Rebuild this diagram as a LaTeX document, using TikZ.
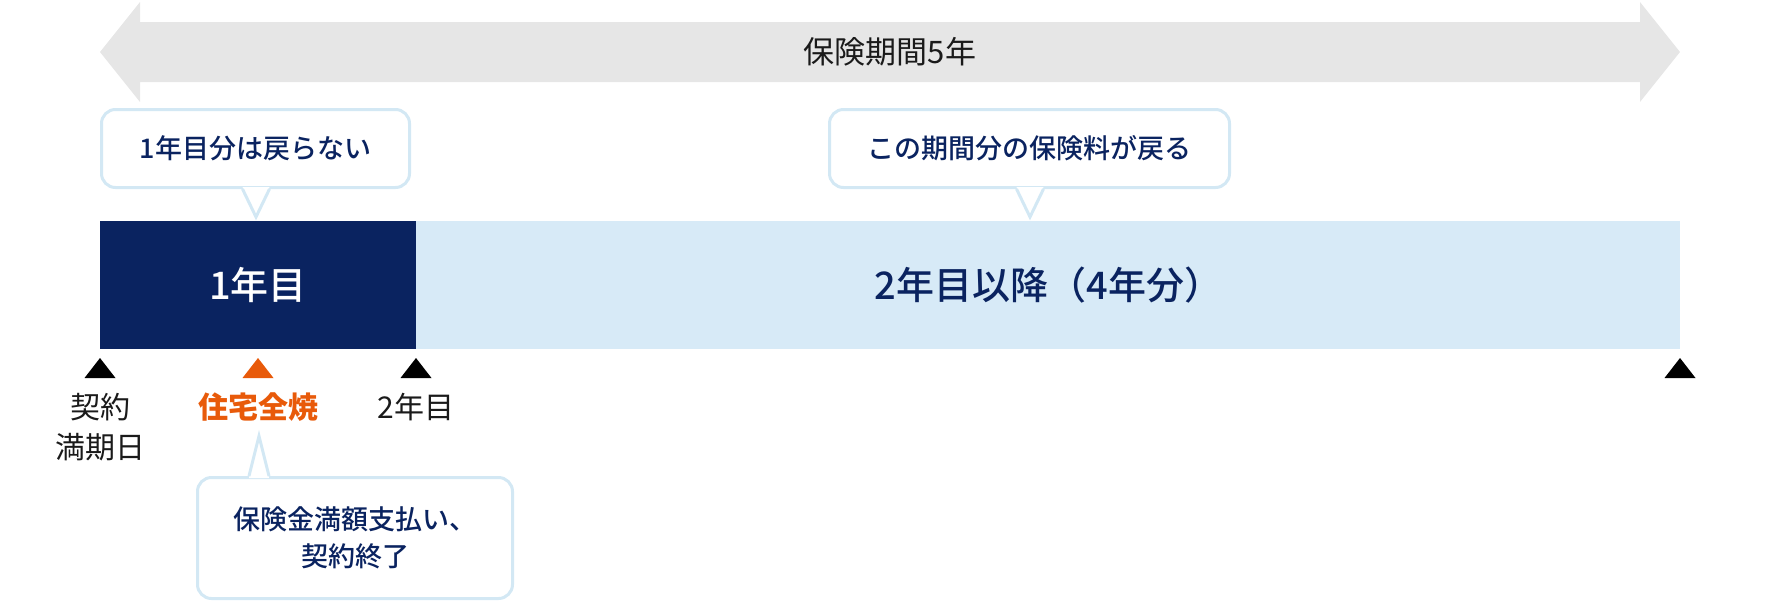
\documentclass[tikz,border=0pt]{standalone}
\usepackage{fontspec}
\setmainfont{Noto Sans CJK JP}
\newfontfamily\jpmedium{Noto Sans CJK JP Medium}
\usetikzlibrary{positioning}

\definecolor{navy}{HTML}{0A2360}
\definecolor{paleblue}{HTML}{D7EAF7}
\definecolor{rim}{HTML}{D3E8F4}
\definecolor{band}{HTML}{E6E6E6}
\definecolor{fire}{HTML}{E85A0A}
\definecolor{ink}{HTML}{1A1A1A}

\begin{document}
\begin{tikzpicture}[x=1pt, y=-1pt,
    period/.style={rectangle, minimum height=128pt, inner sep=0pt, font=\fontsize{38}{44}\selectfont\jpmedium},
    balloon/.style={rectangle, draw=rim, line width=3pt, fill=white, rounded corners=14pt, inner sep=0pt, text=navy, align=center, font=\fontsize{27}{37}\selectfont\jpmedium},
    pointer/.style={draw=rim, line width=3pt},
    label/.style={text=ink, align=center, font=\fontsize{30}{40}\selectfont}
  ]
  \useasboundingbox (0,0) rectangle (1780,606);

  % insurance period band
  \fill[band] (100,52) -- (140,2) -- (140,22) -- (1640,22) -- (1640,2) -- (1680,52)
    -- (1640,102) -- (1640,82) -- (140,82) -- (140,102) -- cycle;
  \node[text=ink, font=\fontsize{31}{36}\selectfont] (term) at (890,52) {保険期間5年};

  % years
  \node[period, fill=navy, text=white, minimum width=316pt] (year1) at (258,285) {1年目};
  \node[period, fill=paleblue, text=navy, minimum width=1264pt, right=0pt of year1] (later) {2年目以降（4年分）};

  % callouts
  \node[balloon, minimum width=308pt, minimum height=78pt] (note1) at (255.5,148.5) {1年目分は戻らない};
  \coordinate (tip1) at (256,217);
  \coordinate (base1) at (tip1 |- note1.south);
  \fill[white] ([xshift=-13.5pt,yshift=2pt]base1) -- (tip1) -- ([xshift=13.5pt,yshift=2pt]base1) -- cycle;
  \draw[pointer] ([xshift=-13.5pt]base1) -- (tip1) -- ([xshift=13.5pt]base1);

  \node[balloon, minimum width=400pt, minimum height=78pt] (note2) at (1029.5,148.5) {この期間分の保険料が戻る};
  \coordinate (tip2) at (1030,217);
  \coordinate (base2) at (tip2 |- note2.south);
  \fill[white] ([xshift=-13.5pt,yshift=2pt]base2) -- (tip2) -- ([xshift=13.5pt,yshift=2pt]base2) -- cycle;
  \draw[pointer] ([xshift=-13.5pt]base2) -- (tip2) -- ([xshift=13.5pt]base2);

  \node[balloon, minimum width=315pt, minimum height=121pt] (note3) at (355,538) {保険金満額支払い、\\契約終了};
  \coordinate (tip3) at (259,436);
  \coordinate (base3) at (tip3 |- note3.north);
  \fill[white] ([xshift=-10pt,yshift=-2pt]base3) -- (tip3) -- ([xshift=10pt,yshift=-2pt]base3) -- cycle;
  \draw[pointer] ([xshift=-10pt]base3) -- (tip3) -- ([xshift=10pt]base3);

  % markers
  \foreach \x/\c in {100/black, 258/fire, 416/black, 1680/black}
    \fill[\c] (\x-15.5,378) -- (\x,358) -- (\x+15.5,378) -- cycle;

  \node[label] (expiry) at (100,427) {契約\\満期日};
  \node[label, text=fire, font=\fontsize{30}{40}\selectfont\bfseries] (fire) at (258,407) {住宅全焼};
  \node[label] (year2) at (416,407) {2年目};
\end{tikzpicture}
\end{document}
